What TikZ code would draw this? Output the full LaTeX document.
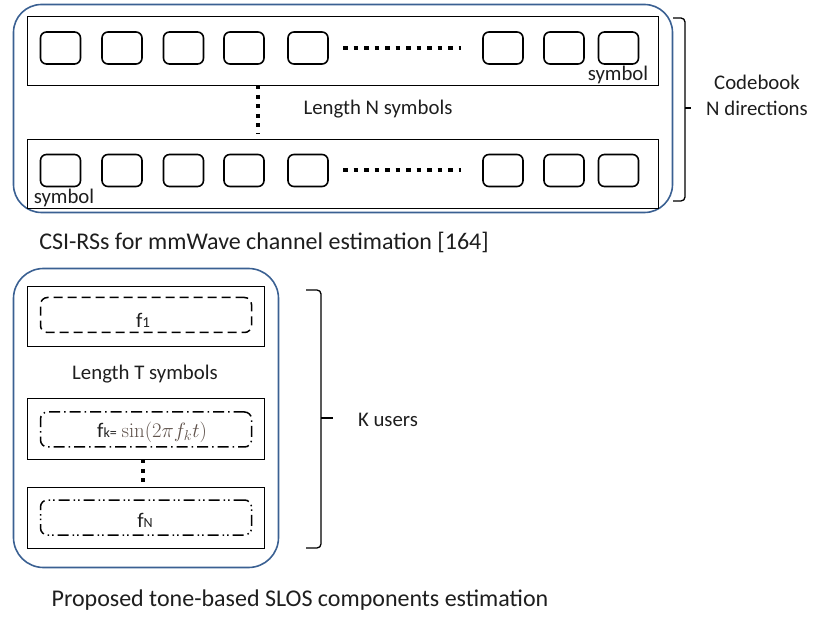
\documentclass[tikz,border=0pt]{standalone}
\usepackage[no-math]{fontspec}
\setmainfont{Carlito}
\definecolor{frameblue}{RGB}{58,96,146}
\definecolor{txt}{RGB}{30,30,30}
\definecolor{mathc}{RGB}{95,82,75}
\begin{document}
\begin{tikzpicture}[x=1pt,y=-1pt,
  blueframe/.style={draw=frameblue,line width=1.6pt,rounded corners=28pt,inner sep=0pt,outer sep=0pt},
  rowbox/.style={draw,line width=1.6pt,inner sep=0pt,outer sep=0pt},
  symbox/.style={draw,line width=1.6pt,rounded corners=6pt,minimum width=40pt,minimum height=32pt,inner sep=0pt,outer sep=0pt},
  tonebox/.style={line width=1.5pt,rounded corners=7pt,minimum width=211pt,minimum height=35pt,inner sep=0pt,outer sep=0pt},
  dotline/.style={line width=4pt,dash pattern=on 4.5pt off 6pt},
  vdotline/.style={line width=4.5pt,dash pattern=on 4pt off 5.5pt},
  lbl/.style={text=txt,inner sep=0pt,font=\fontsize{20.8}{26}\selectfont},
  captext/.style={text=txt,inner sep=0pt,font=\fontsize{24}{28}\selectfont},
  bracepath/.style={line width=1.3pt,rounded corners=4pt}]
\useasboundingbox (0,0) rectangle (817,617);
% ---------- top part ----------
\node[blueframe,minimum width=659pt,minimum height=208pt] (topframe) at (343,108.5) {};
\node[rowbox,minimum width=631pt,minimum height=69pt] (rowA) at (343,51) {};
\node[rowbox,minimum width=631pt,minimum height=69pt] (rowB) at (343,174) {};
\foreach \i/\x in {1/60.5,2/122,3/183.5,4/244,5/308,6/503,7/564,8/618.5}{
  \node[symbox] (a\i) at (\x,48) {};
  \node[symbox] (b\i) at (\x,170.5) {};
}
\draw[dotline] ([xshift=15pt]a5.east) -- ([xshift=-22pt]a6.west);
\draw[dotline] ([xshift=15pt]b5.east) -- ([xshift=-22pt]b6.west);
\draw[vdotline,shorten >=6pt] ([xshift=-85pt]rowA.south) -- ([xshift=-85pt]rowB.north);
\node[lbl] (lenN) at (378,109) {Length N symbols};
\node[lbl] (symA) at (618,75) {symbol};
\node[lbl] (symB) at (64,198) {symbol};
\node[lbl,align=center] (codebook) at (757,95) {Codebook\\N directions};
\draw[bracepath] (673,18) -- (685,18) -- (685,108) -- (685,201) -- (673,201);
\draw[line width=1.3pt] (685,108) -- (691,108);
\node[captext] (cap1) at (264,242) {CSI-RSs for mmWave channel estimation [164]};
% ---------- bottom part ----------
\node[blueframe,rounded corners=30pt,minimum width=265pt,minimum height=299pt] (botframe) at (146,418) {};
\node[rowbox,minimum width=237pt,minimum height=60pt] (r1) at (146,316.5) {};
\node[rowbox,minimum width=237pt,minimum height=61pt] (r2) at (146,429) {};
\node[rowbox,minimum width=237pt,minimum height=61pt] (r3) at (146,518) {};
\node[tonebox,draw,dash pattern=on 9pt off 5pt] (t1) at (146,315) {};
\node[tonebox,draw,dash pattern=on 11pt off 4pt on 1.5pt off 4pt] (t2) at (146,429.5) {};
\node[tonebox,draw,dash pattern=on 11pt off 4pt on 1.5pt off 3pt on 1.5pt off 4pt] (t3) at (146,517.5) {};
\node[lbl] (f1) at (143,320) {f{\fontsize{15}{15}\selectfont 1}};
\node[lbl] (lenT) at (145,374) {Length T symbols};
\node[lbl,anchor=west] (fk) at (97,432) {f{\fontsize{14}{14}\selectfont k=} \textcolor{mathc}{$\sin(2\pi f_k t)$}};
\node[lbl] (fN) at (145,520) {f{\fontsize{14}{14}\selectfont N}};
\draw[vdotline] ([xshift=-3pt]r2.south) -- ([xshift=-3pt]r3.north);
\draw[bracepath] (306,290) -- (321,290) -- (321,418) -- (321,548) -- (306,548);
\draw[line width=1.3pt] (321,418) -- (333,418);
\node[lbl] (kusers) at (388,420) {K users};
\node[captext] (cap2) at (300,600) {Proposed tone-based SLOS components estimation};
\end{tikzpicture}
\end{document}
